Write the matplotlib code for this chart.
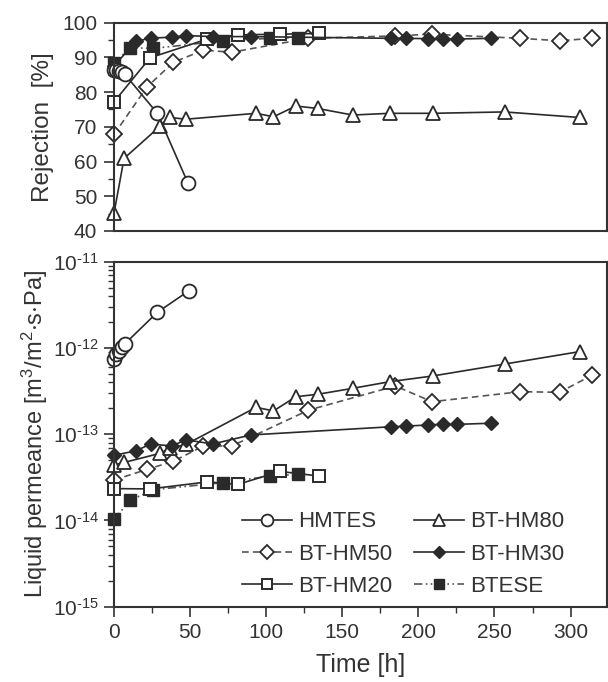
import matplotlib
matplotlib.use("Agg")
import matplotlib.pyplot as plt
from matplotlib.ticker import MultipleLocator, LogLocator, NullFormatter, FixedLocator

plt.rcParams['font.family'] = ['Liberation Sans', 'DejaVu Sans']
plt.rcParams['mathtext.fontset'] = 'custom'
plt.rcParams['mathtext.rm'] = 'Liberation Sans'
plt.rcParams['mathtext.it'] = 'Liberation Sans:italic'

# ---------------- data ----------------
# HMTES
hm_t_rej = [0, 1.5, 3, 5, 7, 28.5, 48.5]
hm_rej = [86.5, 86.3, 86.0, 85.7, 85.2, 73.9, 53.9]
hm_t_perm = [0, 1.5, 3, 5, 7, 28.5, 49]
hm_perm = [7.5e-13, 8.4e-13, 9.3e-13, 1.02e-12, 1.11e-12, 2.59e-12, 4.57e-12]

# BT-HM80
h80_t = [0, 6.6, 30.3, 36.8, 47.2, 93.4, 104.8, 119.5, 133.8, 156.8, 181.1, 209.4, 256.6, 305.9]
h80_rej = [45.1, 60.9, 70.2, 72.7, 72.2, 73.9, 72.9, 76.0, 75.3, 73.4, 73.9, 73.9, 74.3, 72.7]
h80_perm = [4.4e-14, 4.7e-14, 6.0e-14, 6.9e-14, 7.6e-14, 2.05e-13, 1.86e-13, 2.72e-13,
            2.9e-13, 3.4e-13, 4.06e-13, 4.73e-13, 6.5e-13, 9.06e-13]

# BT-HM50
h50_t = [0, 21.5, 39, 58.8, 77.4, 127.8, 184.9, 209, 267, 292.8, 314.3]
h50_rej = [67.8, 81.4, 88.6, 92.1, 91.5, 95.5, 96.2, 96.7, 95.5, 94.8, 95.5]
h50_perm = [2.94e-14, 3.9e-14, 4.85e-14, 7.3e-14, 7.3e-14, 1.9e-13, 3.62e-13,
            2.38e-13, 3.11e-13, 3.06e-13, 4.85e-13]

# BT-HM30
h30_t = [0, 14.3, 24.1, 38, 47.2, 64.9, 89.9, 182, 191.7, 206.6, 216, 225.2, 247.8]
h30_rej = [87.5, 94.6, 95.6, 95.8, 96.3, 96.0, 96.0, 95.5, 95.5, 95.4, 95.3, 95.3, 95.5]
h30_perm = [5.7e-14, 6.4e-14, 7.7e-14, 7.3e-14, 8.6e-14, 7.7e-14, 9.8e-14,
            1.22e-13, 1.24e-13, 1.28e-13, 1.3e-13, 1.3e-13, 1.34e-13]

# BT-HM20
h20_t = [0, 23.7, 61.4, 81.4, 109.2, 134.9]
h20_rej = [77.2, 89.9, 95.3, 96.5, 96.7, 96.9]
h20_perm = [2.34e-14, 2.32e-14, 2.8e-14, 2.62e-14, 3.7e-14, 3.27e-14]

# BTESE
bt_t = [0, 10.5, 25.9, 71.9, 102.6, 120.6]
bt_rej = [88.3, 92.8, 92.6, 94.8, 95.5, 95.7]
bt_perm = [1.03e-14, 1.71e-14, 2.27e-14, 2.75e-14, 3.27e-14, 3.43e-14]

labels = ['HMTES', 'BT-HM80', 'BT-HM50', 'BT-HM30', 'BT-HM20', 'BTESE']
rej_ticks = [40, 50, 60, 70, 80, 90, 100]
perm_ticks = [1e-15, 1e-14, 1e-13, 1e-12, 1e-11]
perm_ticklabels = ['$\\mathregular{10^{\u201015}}$', '$\\mathregular{10^{\u201014}}$',
                   '$\\mathregular{10^{\u201013}}$', '$\\mathregular{10^{\u201012}}$',
                   '$\\mathregular{10^{\u201011}}$']
time_ticks = [0, 50, 100, 150, 200, 250, 300]

# ---------------- styles ----------------
dark = '#2a2a2a'
styles = {
    'HMTES':   dict(color=dark, ls='-', lw=1.2, marker='o', ms=10, mfc='white', mec=dark, mew=1.3),
    'BT-HM80': dict(color=dark, ls='-', lw=1.2, marker='^', ms=10.5, mfc='white', mec=dark, mew=1.3),
    'BT-HM50': dict(color='#555555', ls=(0, (4, 2.5)), lw=1.2, marker='D', ms=8, mfc='white', mec=dark, mew=1.3),
    'BT-HM30': dict(color=dark, ls='-', lw=1.2, marker='D', ms=7, mfc=dark, mec=dark, mew=1.0),
    'BT-HM20': dict(color=dark, ls='-', lw=1.2, marker='s', ms=8.5, mfc='white', mec=dark, mew=1.4),
    'BTESE':   dict(color='#555555', ls=(0, (5, 2, 1, 2, 1, 2)), lw=1.2, marker='s', ms=8.5, mfc=dark, mec=dark, mew=1.0),
}

fig = plt.figure(figsize=(6.08, 6.82), dpi=100)
ax1 = fig.add_axes([0.1875, 0.6613, 0.811, 0.3054])
ax2 = fig.add_axes([0.1875, 0.1104, 0.811, 0.5059])

# top panel: rejection
ax1.plot(h50_t, h50_rej, **styles['BT-HM50'])
ax1.plot(bt_t, bt_rej, **styles['BTESE'])
ax1.plot(h80_t, h80_rej, **styles['BT-HM80'])
ax1.plot(h20_t, h20_rej, **styles['BT-HM20'])
ax1.plot(h30_t, h30_rej, **styles['BT-HM30'])
ax1.plot(hm_t_rej, hm_rej, **styles['HMTES'])

# bottom panel: permeance
handles = {}
handles['BT-HM50'], = ax2.plot(h50_t, h50_perm, **styles['BT-HM50'])
handles['BTESE'], = ax2.plot(bt_t, bt_perm, **styles['BTESE'])
handles['BT-HM80'], = ax2.plot(h80_t, h80_perm, **styles['BT-HM80'])
handles['BT-HM20'], = ax2.plot(h20_t, h20_perm, **styles['BT-HM20'])
handles['BT-HM30'], = ax2.plot(h30_t, h30_perm, **styles['BT-HM30'])
handles['HMTES'], = ax2.plot(hm_t_perm, hm_perm, **styles['HMTES'])
for h in handles.values():
    h.set_clip_on(False)
for l in ax1.get_lines():
    l.set_clip_on(False)

for ax in (ax1, ax2):
    ax.set_xlim(0, 324)
    for s in ax.spines.values():
        s.set_linewidth(1.5)
        s.set_color('#333333')
    ax.tick_params(axis='both', which='major', direction='out', length=7, width=1.2,
                   labelsize=15, colors='#333333', labelcolor='#333333', pad=5)
    ax.tick_params(axis='both', which='minor', direction='out', length=4, width=1.0,
                   colors='#333333')
    ax.tick_params(top=False, right=False)

ax1.set_ylim(40, 100)
ax1.yaxis.set_major_locator(FixedLocator(rej_ticks))
ax1.yaxis.set_minor_locator(MultipleLocator(5))
ax1.set_xticks([])
ax1.xaxis.set_minor_locator(FixedLocator([]))
ax1.set_ylabel('Rejection  [%]', fontsize=17.5, color='#333333')
ax1.yaxis.set_label_coords(-0.122, 0.5)

ax2.set_yscale('log')
ax2.set_ylim(1e-15, 1e-11)
ax2.yaxis.set_major_locator(FixedLocator(perm_ticks))
ax2.set_yticklabels(perm_ticklabels)
ax2.tick_params(axis='y', which='major', pad=4)
ax2.yaxis.set_minor_locator(LogLocator(base=10, subs=range(2, 10), numticks=20))
ax2.yaxis.set_minor_formatter(NullFormatter())
ax2.xaxis.set_major_locator(FixedLocator(time_ticks))
ax2.xaxis.set_minor_locator(MultipleLocator(25))
ax2.set_xlabel('Time [h]', fontsize=18, color='#333333', labelpad=8)
ax2.set_ylabel(r'Liquid permeance [m$\mathregular{^3}$/m$\mathregular{^2}$$\mathregular{\cdot}$s$\mathregular{\cdot}$Pa]',
               fontsize=17, color='#333333')
ax2.yaxis.set_label_coords(-0.13, 0.5)

order = ['HMTES', 'BT-HM50', 'BT-HM20', 'BT-HM80', 'BT-HM30', 'BTESE']
leg = ax2.legend([handles[k] for k in order], order, ncol=2, loc='upper left',
                 bbox_to_anchor=(0.259, 0.276), frameon=False, fontsize=16,
                 handlelength=2.25, handletextpad=0.27, columnspacing=1.0,
                 labelspacing=0.5, markerscale=0.85, borderpad=0, borderaxespad=0)
for t in leg.get_texts():
    t.set_color('#333333')

fig.savefig('out.png', dpi=100)
